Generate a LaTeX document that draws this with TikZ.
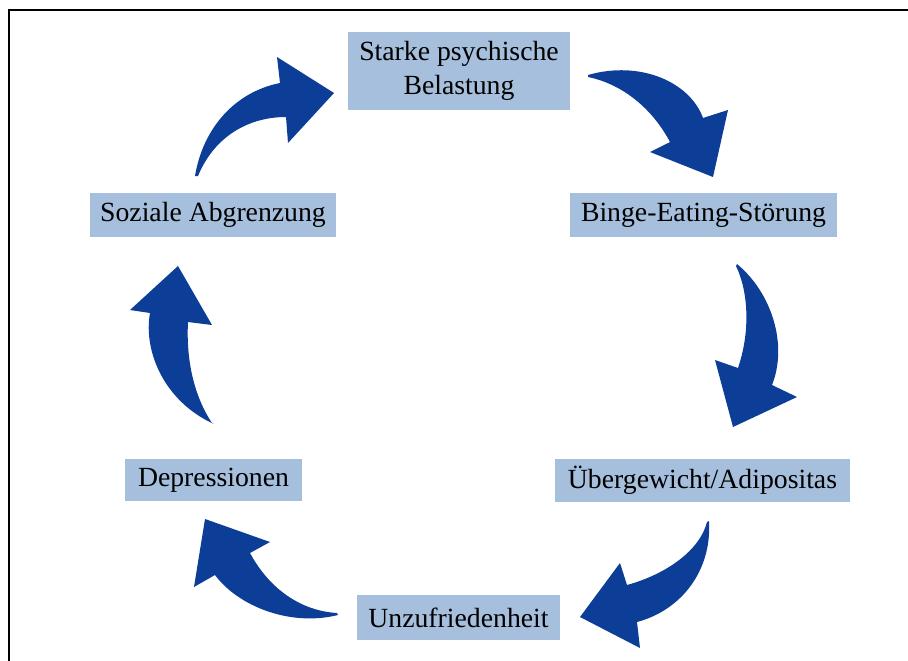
\documentclass[tikz,border=0pt]{standalone}
\usepackage{fontspec}
\setmainfont{Liberation Serif}
\definecolor{boxblue}{RGB}{166,191,221}
\definecolor{arrblue}{RGB}{12,62,152}
\begin{document}
\begin{tikzpicture}[x=0.75pt,y=-0.75pt,
  lbl/.style={fill=boxblue, inner sep=0pt, align=center, text=black,
    font=\fontsize{20.8}{25.5}\selectfont},
  arr/.style={fill=arrblue},
  frameline/.style={line width=1.5pt, black}]
\useasboundingbox (0,0) rectangle (908,661);
\fill[white] (0,0) rectangle (908,661);
\draw[frameline] (9,661) -- (9,10) -- (908,10);

% boxes
\node[lbl, minimum width=166.5pt, minimum height=58.5pt] (stress) at (459,71) {Starke psychische\\Belastung};
\node[lbl, minimum width=200.25pt, minimum height=33pt] (binge) at (703.5,215) {Binge-Eating-Störung};
\node[lbl, minimum width=221.25pt, minimum height=32.25pt] (adip) at (702.5,480.5) {Übergewicht/Adipositas};
\node[lbl, minimum width=152.25pt, minimum height=33.75pt] (unzuf) at (458.5,617.5) {Unzufriedenheit};
\node[lbl, minimum width=132.75pt, minimum height=31.5pt] (depr) at (213.5,480) {Depressionen};
\node[lbl, minimum width=184.5pt, minimum height=33pt] (sozial) at (213,215) {Soziale Abgrenzung};

% curved block arrows
% Soziale -> Starke
\fill[arr] (195,176) .. controls (203,128) and (235,92) .. (280,83)
  -- (277,57) -- (334,93) -- (288,143) -- (286,117)
  .. controls (250,117) and (215,135) .. (198,176) -- cycle;
% Starke -> Binge
\fill[arr] (588,75) .. controls (640,60) and (690,82) .. (703,118)
  -- (728,110) -- (713,177) -- (650,152) -- (670,142)
  .. controls (652,108) and (622,84) .. (588,77) -- cycle;
% Binge -> Adipositas
\fill[arr] (737,264) .. controls (772,293) and (788,345) .. (772,385)
  -- (797,397) -- (733,427) -- (715,360) -- (738,368)
  .. controls (750,333) and (749,293) .. (736,266) -- cycle;
% Adipositas -> Unzufriedenheit
\fill[arr] (709,521) .. controls (712,570) and (682,610) .. (637,622)
  -- (640,648) -- (580,617) -- (620,563) -- (627,585)
  .. controls (667,574) and (700,550) .. (707,522) -- cycle;
% Unzufriedenheit -> Depressionen
\fill[arr] (338,615) .. controls (290,627) and (238,606) .. (215,575)
  -- (194,587) -- (205,519) -- (270,542) -- (250,553)
  .. controls (270,590) and (302,611) .. (337,613) -- cycle;
% Depressionen -> Soziale
\fill[arr] (214,424) .. controls (165,402) and (143,352) .. (150,313)
  -- (130,310) -- (178,266) -- (212,325) -- (188,322)
  .. controls (186,360) and (194,396) .. (212,423) -- cycle;
\end{tikzpicture}
\end{document}
